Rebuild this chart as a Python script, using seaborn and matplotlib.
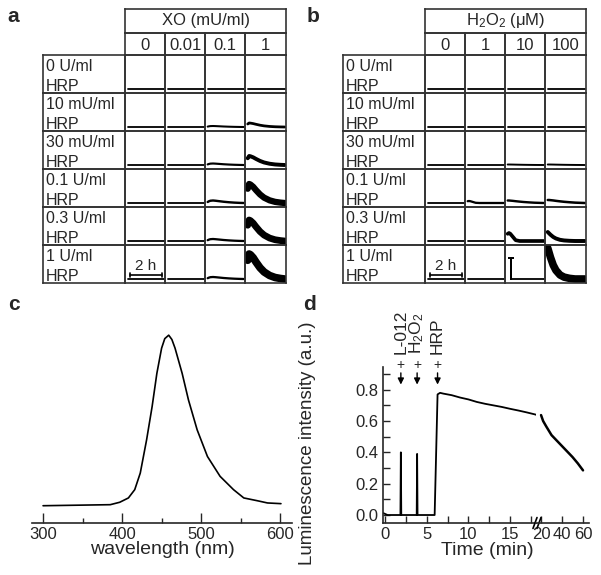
import numpy as np
import matplotlib
matplotlib.use("Agg")
import matplotlib.pyplot as plt
import seaborn as sns
from matplotlib.ticker import MultipleLocator, FormatStrFormatter

# ---- data ----
hrp_labels = ["0 U/ml", "10 mU/ml", "30 mU/ml", "0.1 U/ml", "0.3 U/ml", "1 U/ml"]
xo_levels = ["0", "0.01", "0.1", "1"]
h2o2_levels = ["0", "1", "10", "100"]

mini_t = [0, 5, 10, 20, 30, 45, 60, 80, 100, 120, 135]
shape_flat = [0, 0, 0, 0, 0, 0, 0, 0, 0, 0, 0]
shape_slow = [0.75, 1.0, 0.97, 0.85, 0.68, 0.45, 0.28, 0.14, 0.06, 0.02, 0.0]
shape_hump = [0.4, 0.7, 0.9, 1.0, 0.9, 0.7, 0.5, 0.3, 0.15, 0.05, 0.0]
shape_decline = [1.0, 1.0, 0.95, 0.85, 0.72, 0.55, 0.4, 0.25, 0.12, 0.05, 0.0]
shape_fast = [1.0, 0.85, 0.7, 0.45, 0.28, 0.13, 0.06, 0.02, 0.0, 0.0, 0.0]
shape_blip = [0.9, 1.0, 0.9, 0.5, 0.1, 0.0, 0.0, 0.0, 0.0, 0.0, 0.0]
spike_t = [12, 12, 4, 20, 12, 12, 135]
spike_y = [0, 1, 1, 1, 1, 0, 0]

# peak heights (a.u.) per cell, rows = HRP, cols = XO / H2O2
a_amp = [[0, 0, 0, 0],
         [0, 0, 1, 4],
         [0, 0, 1.5, 9],
         [0, 0, 2.5, 19],
         [0, 0, 2, 21],
         [0, 0, 2, 25]]
a_shape = [["flat", "flat", "flat", "flat"],
           ["flat", "flat", "hump", "slow"],
           ["flat", "flat", "hump", "slow"],
           ["flat", "flat", "hump", "slow"],
           ["flat", "flat", "hump", "slow"],
           ["flat", "flat", "hump", "slow"]]
b_amp = [[0, 0, 0, 0],
         [0, 0, 0, 0],
         [0, 0, 0.5, 0.5],
         [0, 2, 2.5, 3],
         [0, 0, 8, 9],
         [0, 0, 21, 31]]
b_shape = [["flat", "flat", "flat", "flat"],
           ["flat", "flat", "flat", "flat"],
           ["flat", "flat", "decline", "decline"],
           ["flat", "blip", "decline", "decline"],
           ["flat", "flat", "blip", "fast"],
           ["flat", "flat", "spike", "fast"]]
scale_bar_min = 120

# emission spectrum (panel c)
wavelength_nm = [300, 385, 397, 408, 416, 423, 431, 438, 444, 450, 454, 459, 463, 467,
                 476, 484, 495, 508, 524, 541, 554, 571, 584, 601]
emission = [0.013, 0.019, 0.033, 0.058, 0.106, 0.202, 0.394, 0.587, 0.779, 0.925, 0.98,
            1.0, 0.975, 0.925, 0.779, 0.625, 0.452, 0.298, 0.183, 0.106, 0.058, 0.042,
            0.029, 0.025]

# luminescence time course (panel d)
t_left = [-0.2, 0.3, 1.85, 1.9, 1.95, 3.8, 3.85, 3.9, 5.95, 6.3, 6.6, 7, 8, 9, 10,
          11, 12, 13, 14, 15, 16, 17, 18, 18.4]
lum_left = [0.012, 0.0, 0.0, 0.40, 0.0, 0.0, 0.39, 0.0, 0.0, 0.77, 0.78, 0.775, 0.765,
            0.75, 0.738, 0.722, 0.71, 0.70, 0.69, 0.678, 0.667, 0.655, 0.642, 0.635]
t_right = [20, 22, 25, 30, 35, 40, 45, 50, 55, 60]
lum_right = [0.638, 0.60, 0.565, 0.51, 0.475, 0.44, 0.405, 0.37, 0.33, 0.285]
event_t = [1.9, 3.85, 6.3]
event_labels = ["L-012", "H$_2$O$_2$", "HRP"]

shapes = {"flat": shape_flat, "slow": shape_slow, "hump": shape_hump,
          "decline": shape_decline, "fast": shape_fast, "blip": shape_blip}

# ---- style ----
sns.set_style("ticks")
plt.rcParams["font.family"] = ["Liberation Sans", "DejaVu Sans"]
plt.rcParams["mathtext.default"] = "regular"

W, H = 601, 575
fig = plt.figure(figsize=(W / 100, H / 100), dpi=100)

LINE = "#333333"


def px_axes(x0, y0, x1, y1):
    return fig.add_axes([x0 / W, 1 - y1 / H, (x1 - x0) / W, (y1 - y0) / H])


def cell(x0, y0, x1, y1):
    ax = px_axes(x0, y0, x1, y1)
    ax.set_xticks([])
    ax.set_yticks([])
    for s in ax.spines.values():
        s.set_visible(True)
        s.set_linewidth(1.2)
        s.set_color(LINE)
    ax.set_facecolor("none")
    return ax


def draw_table(ox, header, levels, amp, shape):
    col_x = [ox + 125, ox + 165, ox + 205, ox + 245, ox + 286]
    row_y = [55, 93, 131, 169, 207, 245, 283]
    hdr = cell(col_x[0], 9, col_x[-1], 33)
    hdr.text(0.5, 0.5, header, transform=hdr.transAxes, ha="center", va="center", fontsize=12)
    for j, lev in enumerate(levels):
        c = cell(col_x[j], 33, col_x[j + 1], 55)
        c.text(0.5, 0.45, lev, transform=c.transAxes, ha="center", va="center", fontsize=12)
    for i, lab in enumerate(hrp_labels):
        y0, y1 = row_y[i], row_y[i + 1]
        lc = cell(ox + 43, y0, ox + 125, y1)
        lc.text(0.035, 0.58, lab, transform=lc.transAxes, va="baseline", fontsize=11.5)
        lc.text(0.035, 0.06, "HRP", transform=lc.transAxes, va="baseline", fontsize=11.5)
        for j in range(4):
            ax = cell(col_x[j], y0, col_x[j + 1], y1)
            a = amp[i][j]
            if shape[i][j] == "spike":
                tx, ty = spike_t, [a * v for v in spike_y]
                lw = 1.3
            else:
                tx, ty = mini_t, [a * v for v in shapes[shape[i][j]]]
                lw = min(1.3 + 0.17 * a, 5.5)
            sns.lineplot(x=tx, y=ty, ax=ax, color="black", lw=lw, estimator=None, sort=False)
            ax.set_xlim(-10, 140)
            ax.set_ylim(-4, 34)
            ax.set_xticks([])
            ax.set_yticks([])
            ax.set_xlabel("")
            ax.set_ylabel("")
            if i == len(hrp_labels) - 1 and j == 0:
                ax.plot([7, 7 + scale_bar_min], [4, 4], color="black", lw=1.2)
                ax.plot([7, 7], [2.3, 5.7], color="black", lw=1.2)
                ax.plot([7 + scale_bar_min, 7 + scale_bar_min], [2.3, 5.7], color="black", lw=1.2)
                ax.text(7 + scale_bar_min / 2, 6.5, "2 h", ha="center", va="bottom", fontsize=11)


draw_table(0, "XO (mU/ml)", xo_levels, a_amp, a_shape)
draw_table(300, "H$_2$O$_2$ (μM)", h2o2_levels, b_amp, b_shape)

# ---- panel c ----
ax_c = px_axes(32, 330, 292, 523)
sns.lineplot(x=wavelength_nm, y=emission, ax=ax_c, color="black", lw=1.2, estimator=None, sort=False)
ax_c.set_xlim(286, 615)
ax_c.set_ylim(-0.087, 1.03)
for s in ["left", "top", "right"]:
    ax_c.spines[s].set_visible(False)
ax_c.spines["bottom"].set_linewidth(1.2)
ax_c.set_yticks([])
ax_c.set_xticks([300, 400, 500, 600])
ax_c.xaxis.set_minor_locator(MultipleLocator(50))
ax_c.tick_params(axis="x", which="major", direction="in", length=7, width=1, labelsize=12, pad=3)
ax_c.tick_params(axis="x", which="minor", direction="in", length=3.5, width=1)
ax_c.set_xlabel("wavelength (nm)", fontsize=14, labelpad=-1)
ax_c.set_ylabel("")

# ---- panel d ----
ax_d1 = px_axes(383, 367, 536, 523)
ax_d2 = px_axes(536, 367, 589, 523)
sns.lineplot(x=t_left, y=lum_left, ax=ax_d1, color="black", lw=1.3, estimator=None, sort=False)
sns.lineplot(x=t_right, y=lum_right, ax=ax_d2, color="black", lw=1.8, estimator=None, sort=False)
ax_d1.set_xlim(-0.24, 18.1)
ax_d2.set_xlim(15.2, 65.7)
for ax in (ax_d1, ax_d2):
    ax.set_ylim(-0.051, 0.945)
    ax.spines["top"].set_visible(False)
    ax.spines["right"].set_visible(False)
    ax.spines["bottom"].set_linewidth(1.2)
    ax.set_xlabel("")
    ax.set_ylabel("")
ax_d2.spines["left"].set_visible(False)
ax_d1.spines["left"].set_linewidth(1.2)
ax_d2.set_yticks([])
ax_d2.set_xticks([20, 40, 60])
ax_d1.xaxis.set_major_locator(MultipleLocator(5))
ax_d1.xaxis.set_minor_locator(MultipleLocator(2.5))
ax_d1.yaxis.set_major_locator(MultipleLocator(0.2))
ax_d1.yaxis.set_minor_locator(MultipleLocator(0.1))
ax_d1.yaxis.set_major_formatter(FormatStrFormatter("%.1f"))
for ax in (ax_d1, ax_d2):
    ax.tick_params(which="both", direction="in", length=5, width=1, labelsize=12, pad=3)

# axis break marks
for dx in (0.0, 0.075):
    ax_d2.plot([-0.057 + dx, 0.019 + dx], [-0.035, 0.035], transform=ax_d2.transAxes,
               color="black", lw=1.2, clip_on=False)

for t, lab in zip(event_t, event_labels):
    ax_d1.annotate("", xy=(t, 0.815), xytext=(t, 0.925),
                   arrowprops=dict(arrowstyle="-|>", color="black", lw=1, mutation_scale=9))
    ax_d1.text(t, 0.958, "+", ha="center", va="center", fontsize=10, clip_on=False)
    ax_d1.text(t, 1.03, lab, rotation=90, ha="center", va="bottom", fontsize=12.5, clip_on=False)

fig.text(308 / W, 1 - 443 / H, "Luminescence intensity (a.u.)", rotation=90,
         ha="center", va="center", fontsize=13.5)
fig.text(487 / W, 1 - 542 / H, "Time (min)", ha="center", va="top", fontsize=14)

# panel letters
for lab, x, y in [("a", 7, 22), ("b", 307, 22), ("c", 8, 310), ("d", 303, 310)]:
    fig.text(x / W, 1 - y / H, lab, fontsize=15, fontweight="bold", va="baseline", ha="left")

fig.savefig("out.png", dpi=100)
